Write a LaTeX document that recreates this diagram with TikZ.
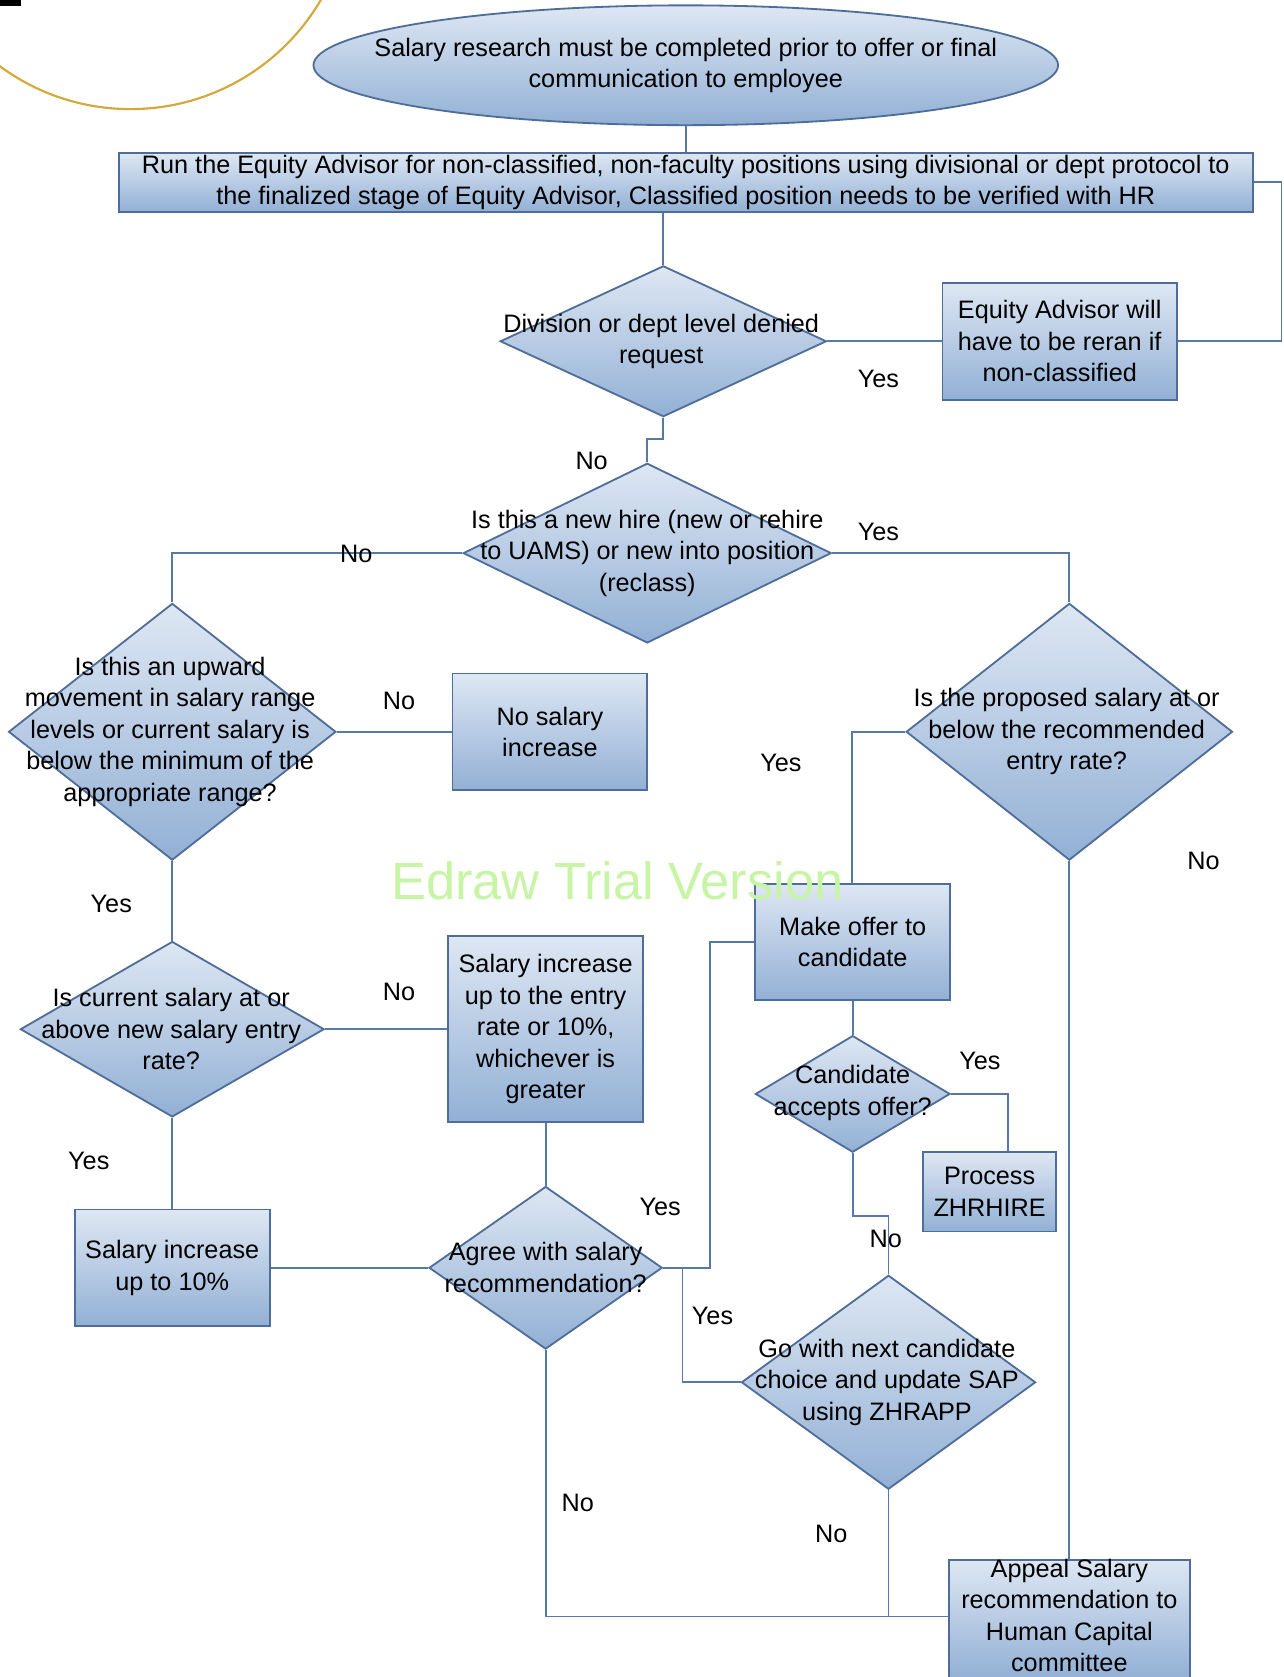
\documentclass[tikz,border=0pt]{standalone}
\usepackage{fontspec}
\setmainfont{Liberation Sans}
\usetikzlibrary{shapes.geometric,calc}
\definecolor{edgec}{RGB}{79,109,153}
\definecolor{linec}{RGB}{88,120,166}
\definecolor{fillt}{RGB}{222,231,243}
\definecolor{fillb}{RGB}{146,176,213}
\definecolor{goldc}{RGB}{212,168,58}
\definecolor{wmark}{RGB}{200,245,165}
\newcommand{\mainsz}{\fontsize{23.6}{29.5}\selectfont}
\tikzset{
  base/.style={draw=edgec, line width=1.7pt, top color=fillt, bottom color=fillb, inner sep=0pt},
  boxn/.style={base, rectangle, align=center, font=\mainsz},
  dian/.style={base, shape=diamond},
  ellin/.style={base, shape=ellipse},
  txt/.style={align=center, font=\mainsz, inner sep=0pt},
  lbl/.style={font=\mainsz, inner sep=0pt},
  conn/.style={draw=linec, line width=1.7pt},
}
\begin{document}
\begin{tikzpicture}[x=1pt,y=-1pt]
\useasboundingbox (0,0) rectangle (1200,1567.5);
\clip (0,0) rectangle (1200,1567.5);
\fill[white] (0,0) rectangle (1200,1567.5);
% decorative corner marks
\fill[black] (0,0) rectangle (20,6);
\draw[goldc, line width=2pt] (122,-104) circle (206);

% shapes
\node[ellin, minimum width=696, minimum height=112] (e) at (641,61) {};
\node[txt] (et) at (641,61) {Salary research must be completed prior to offer or final\\communication to employee};

\node[boxn, minimum width=1060, minimum height=55] (run) at (641,170.5) {Run the Equity Advisor for non-classified, non-faculty positions using divisional or dept protocol to\\the finalized stage of Equity Advisor, Classified position needs to be verified with HR};

\node[dian, minimum width=305, minimum height=141] (d1) at (620,319) {};
\node[txt] (d1t) at (618,319) {Division or dept level denied\\request};

\node[boxn, minimum width=219, minimum height=109] (eq) at (990.5,319) {Equity Advisor will\\have to be reran if\\non-classified};

\node[dian, minimum width=344, minimum height=168] (d2) at (605,517) {};
\node[txt] (d2t) at (605,517) {Is this a new hire (new or rehire\\to UAMS) or new into position\\(reclass)};

\node[dian, minimum width=306, minimum height=240] (d3) at (161,684) {};
\node[txt] (d3t) at (159,684) {Is this an upward\\movement in salary range\\levels or current salary is\\below the minimum of the\\appropriate range?};

\node[boxn, minimum width=182, minimum height=109] (nosal) at (514,684) {No salary\\increase};

\node[dian, minimum width=305, minimum height=240] (d4) at (999.5,684) {};
\node[txt] (d4t) at (997,684) {Is the proposed salary at or\\below the recommended\\entry rate?};

\node[boxn, minimum width=182, minimum height=109] (offer) at (797,880.5) {Make offer to\\candidate};

\node[dian, minimum width=284, minimum height=164] (d5) at (161,962) {};
\node[txt] (d5t) at (160,962) {Is current salary at or\\above new salary entry\\rate?};

\node[boxn, minimum width=182, minimum height=174] (salent) at (510,962) {Salary increase\\up to the entry\\rate or 10\%,\\whichever is\\greater};

\node[boxn, minimum width=182, minimum height=109] (sal10) at (161,1185) {Salary increase\\up to 10\%};

\node[dian, minimum width=218, minimum height=152] (d6) at (510,1185) {};
\node[txt] (d6t) at (510,1184.5) {Agree with salary\\recommendation?};

\node[dian, minimum width=182, minimum height=109] (d7) at (797,1022.5) {};
\node[txt] (d7t) at (797,1021.5) {Candidate\\accepts offer?};

\node[boxn, minimum width=124, minimum height=74] (proc) at (925,1114) {Process\\ZHRHIRE};

\node[dian, minimum width=275, minimum height=200] (d8) at (830.5,1292) {};
\node[txt] (d8t) at (829,1292) {Go with next candidate\\choice and update SAP\\using ZHRAPP};

\node[base, rectangle, minimum width=225, minimum height=110] (appeal) at (999.5,1513) {};
\node[txt] (appealt) at (999.5,1510) {Appeal Salary\\recommendation to\\Human Capital\\committee};
\coordinate (botj) at ([yshift=2]appeal.west);

% connectors
\draw[conn] (e.south) -- (run.north);
\draw[conn] (d1.north |- run.south) -- (d1.north);
\draw[conn] (d1.east) -- (eq.west);
\draw[conn] (eq.east) -| ([xshift=26]run.east) -- (run.east);
\draw[conn] (d1.south) -- ++(0,20) -| (d2.north);
\draw[conn] (d2.west) -| (d3.north);
\draw[conn] (d2.east) -| (d4.north);
\draw[conn] (d3.east) -- (nosal.west);
\draw[conn] (d4.west) -| ([xshift=-50]d4.west |- offer.north) -- (offer.north);
\draw[conn] (d4.south) -- (appeal.north);
\draw[conn] (d3.south) -- (d5.north);
\draw[conn] (d5.east) -- (salent.west);
\draw[conn] (d5.south) -- (sal10.north);
\draw[conn] (sal10.east) -- (d6.west);
\draw[conn] (salent.south) -- (d6.north);
\draw[conn] (d6.east) -- ++(44,0) |- (offer.west);
\draw[conn] ([xshift=18]d6.east) |- (d8.west);
\draw[conn] (offer.south) -- (d7.north);
\draw[conn] (d7.east) -| ([xshift=17]proc.north);
\draw[conn] (d7.south) -- ++(0,59) -| (d8.north);
\draw[conn] (d6.south) |- (botj);
\draw[conn] (d8.south) -- (d8.south |- botj);

% labels
\node[lbl] (l1) at (821,354) {Yes};
\node[lbl] (l2) at (553,431) {No};
\node[lbl] (l3) at (333,518) {No};
\node[lbl] (l4) at (821,497) {Yes};
\node[lbl] (l5) at (373,655) {No};
\node[lbl] (l6) at (730,713) {Yes};
\node[lbl] (l7) at (1125,805) {No};
\node[lbl] (l8) at (104,845) {Yes};
\node[lbl] (l9) at (373,927) {No};
\node[lbl] (l10) at (83,1085) {Yes};
\node[lbl] (l11) at (617,1128) {Yes};
\node[lbl] (l12) at (666,1230) {Yes};
\node[lbl] (l13) at (916,992) {Yes};
\node[lbl] (l14) at (828,1158) {No};
\node[lbl] (l15) at (540,1405) {No};
\node[lbl] (l16) at (777,1434) {No};

% watermark
\node[text=wmark, font=\fontsize{49}{56}\selectfont, inner sep=0pt] (wm) at (577,823) {Edraw Trial Version};
\end{tikzpicture}
\end{document}
